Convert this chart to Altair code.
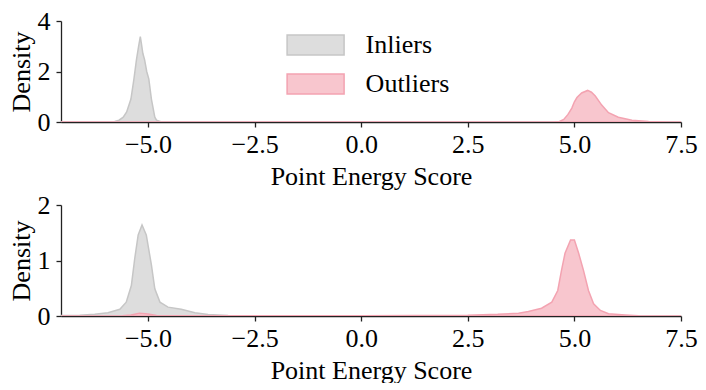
import altair as alt
import pandas as pd

SERIES = ["Inliers", "Outliers"]
FILL = ["#dddddd", "#f8c6ce"]
STROKE = ["#c6c6c6", "#f3a3b1"]
X_TICKS = [-5.0, -2.5, 0.0, 2.5, 5.0, 7.5]
X_DOMAIN = [-7.04, 7.5]
TOP_Y_TICKS = [0, 2, 4]
BOTTOM_Y_TICKS = [0, 1, 2]
X_TITLE = "Point Energy Score"
Y_TITLE = "Density"

# top panel, inliers
top_in_x = [-7.04, -6.2, -5.9, -5.78, -5.68, -5.58, -5.5, -5.4, -5.33, -5.27, -5.22, -5.18,
            -5.15, -5.12, -5.08, -5.03, -4.98, -4.92, -4.84, -4.8, -4.7, -4.5, 7.5]
top_in_y = [0.0, 0.0, 0.005, 0.02, 0.07, 0.19, 0.4, 0.91, 1.7, 2.47, 3.0, 3.38,
            3.05, 2.71, 2.47, 2.0, 1.7, 0.91, 0.19, 0.07, 0.01, 0.0, 0.0]
# top panel, outliers
top_out_x = [-7.04, 4.5, 4.65, 4.75, 4.85, 4.94, 5.0, 5.06, 5.17, 5.31, 5.4, 5.49,
             5.64, 5.8, 6.03, 6.35, 6.74, 7.2, 7.5]
top_out_y = [0.0, 0.0, 0.02, 0.1, 0.3, 0.55, 0.8, 0.97, 1.15, 1.25, 1.18, 1.03,
             0.67, 0.37, 0.19, 0.07, 0.02, 0.0, 0.0]
# bottom panel, inliers
bot_in_x = [-7.04, -6.6, -6.25, -5.94, -5.66, -5.51, -5.39, -5.31, -5.23, -5.14, -5.04,
            -4.92, -4.84, -4.72, -4.53, -4.22, -3.9, -3.59, -3.12, -2.5, 4.6, 4.95, 5.3, 7.5]
bot_in_y = [0.01, 0.015, 0.03, 0.06, 0.12, 0.25, 0.55, 1.04, 1.46, 1.64, 1.46,
            0.92, 0.49, 0.25, 0.16, 0.12, 0.06, 0.025, 0.01, 0.003, 0.003, 0.02, 0.003, 0.0]
# bottom panel, outliers
bot_out_x = [-7.04, -5.6, -5.4, -5.2, -5.0, -4.8, -4.5, -2.5, 0.0, 2.5, 3.2, 3.69, 3.92,
             4.23, 4.47, 4.61, 4.70, 4.78, 4.91, 5.0, 5.10, 5.21, 5.33, 5.45, 5.61, 5.80,
             6.19, 6.5, 7.5]
bot_out_y = [0.0, 0.003, 0.02, 0.05, 0.035, 0.01, 0.004, 0.005, 0.006, 0.015, 0.03, 0.05,
             0.08, 0.14, 0.25, 0.46, 0.83, 1.13, 1.37, 1.37, 1.13, 0.83, 0.46, 0.22, 0.10,
             0.04, 0.02, 0.005, 0.0]

FONT = "Liberation Serif"
FS = 26


def frame(xs, ys, name):
    return pd.DataFrame({"x": xs, "y": ys, "series": name})


legend = alt.Legend(
    title=None,
    orient="none",
    legendX=241.6,
    legendY=11,
    padding=0,
    symbolType="M-2.85,-1H2.85V1H-2.85Z",
    symbolSize=400,
    symbolStrokeWidth=1.5,
    labelFont=FONT,
    labelFontSize=FS,
    labelColor="black",
    labelOffset=37,
    rowPadding=13,
)


def panel(df_in, df_out, y_ticks, y_max, height, show_legend):
    leg = legend if show_legend else None
    fill = alt.Fill("series:N", scale=alt.Scale(domain=SERIES, range=FILL), legend=leg)
    stroke = alt.Stroke("series:N", scale=alt.Scale(domain=SERIES, range=STROKE), legend=leg)
    x = alt.X("x:Q", scale=alt.Scale(domain=X_DOMAIN, nice=False, zero=False),
              axis=alt.Axis(values=X_TICKS, format=".1f", title=X_TITLE, tickCount=20,
                            labelPadding=4, titlePadding=6, labelFlush=False,
                            labelOverlap=False))
    y = alt.Y("y:Q", stack=None, scale=alt.Scale(domain=[0, y_max], nice=False),
              axis=alt.Axis(values=y_ticks, title=Y_TITLE, tickCount=len(y_ticks),
                            labelExpr="replace(datum.label, '.0', '')",
                            labelPadding=6, titlePadding=3, labelFlush=False,
                            labelOverlap=False))
    a = alt.Chart(df_in).mark_area(strokeWidth=1.5, fillOpacity=1, clip=True).encode(
        x=x, y=y, fill=fill, stroke=stroke)
    b = alt.Chart(df_out).mark_area(strokeWidth=1.5, fillOpacity=1, clip=True).encode(
        x=x, y=y, fill=fill, stroke=stroke)
    return alt.layer(a, b).properties(width=620, height=height)


top = panel(frame(top_in_x, top_in_y, "Inliers"), frame(top_out_x, top_out_y, "Outliers"),
            TOP_Y_TICKS, 4, 101, True)
bottom = panel(frame(bot_in_x, bot_in_y, "Inliers"), frame(bot_out_x, bot_out_y, "Outliers"),
               BOTTOM_Y_TICKS, 2, 111, False)

chart = alt.vconcat(top, bottom, spacing=3).resolve_scale(
    fill="independent", stroke="independent", x="independent", y="independent"
).resolve_axis(x="independent", y="independent").properties(
    padding={"left": 0, "top": 0, "right": 0, "bottom": 0}
).configure_view(stroke=None).configure_axis(
    grid=False,
    labelFont=FONT,
    titleFont=FONT,
    labelFontSize=FS,
    titleFontSize=FS,
    titleFontWeight="normal",
    labelColor="black",
    titleColor="black",
    domainColor="#222222",
    tickColor="#222222",
    domainWidth=1.3,
    tickWidth=1.3,
    tickSize=5,
)

chart.save("out.html", embed_options={"renderer": "svg", "actions": False})
